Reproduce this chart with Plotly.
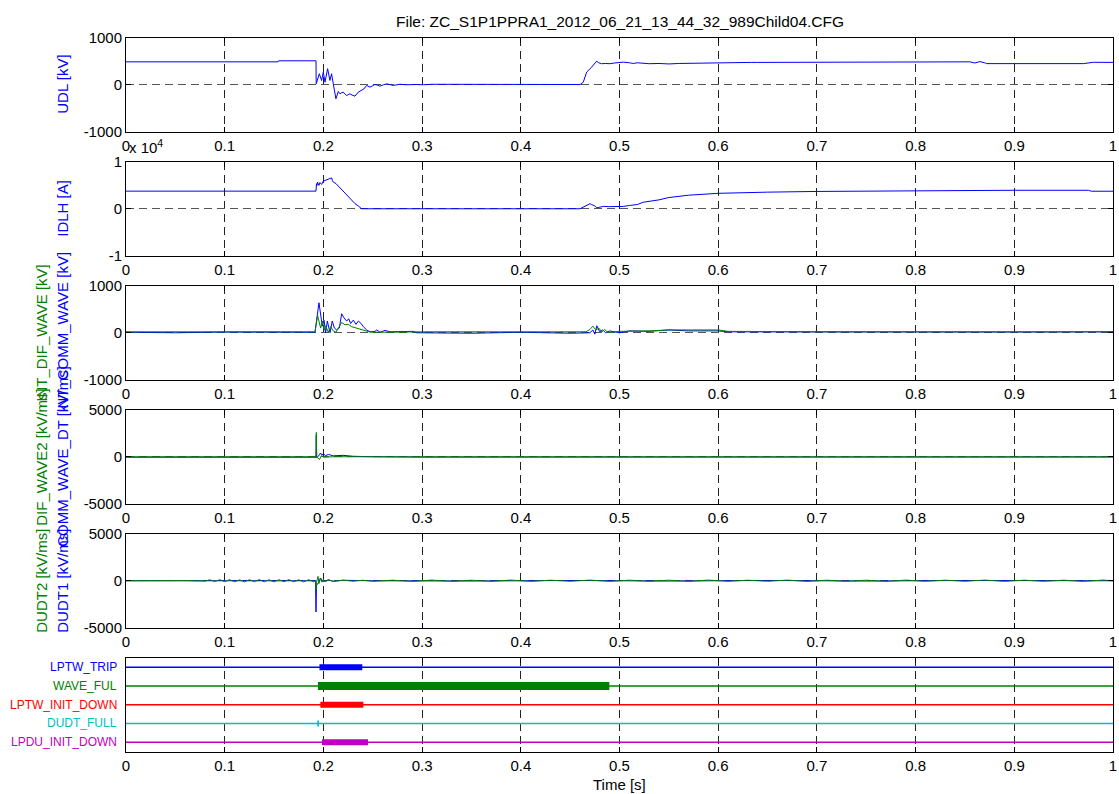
import plotly.graph_objects as go

# ---------------- data ----------------
TITLE = "File: ZC_S1P1PPRA1_2012_06_21_13_44_32_989Child04.CFG"
X_TICKS = [0, 0.1, 0.2, 0.3, 0.4, 0.5, 0.6, 0.7, 0.8, 0.9, 1]

UDL = [(0, 490), (0.154, 490), (0.1545, 512), (0.1925, 512), (0.1927, 20), (0.1959, 235), (0.1982, 90),
       (0.1999, 270), (0.2016, 55), (0.2043, 343), (0.2066, 92), (0.2083, 235), (0.2100, 20), (0.2127, -300),
       (0.2151, -143), (0.2168, -193), (0.2185, -170), (0.2201, -158), (0.2218, -200), (0.2235, -230),
       (0.2252, -210), (0.2269, -193), (0.2290, -220), (0.2320, -244), (0.2353, -158), (0.2387, -122),
       (0.2410, -90), (0.2438, -15), (0.2472, -51), (0.2500, -20), (0.2523, 6), (0.2550, -10), (0.2573, -30),
       (0.2610, 0), (0.2641, 20), (0.2680, 0), (0.2709, -15), (0.2776, 10), (0.2840, 0), (0.2945, 5),
       (0.3013, 0), (0.3100, 10), (0.3500, 5), (0.4000, 0), (0.4600, 5), (0.4633, 55), (0.4667, 270),
       (0.4718, 377), (0.4769, 505), (0.4790, 470), (0.4819, 450), (0.4860, 455), (0.4904, 450), (0.4950, 465),
       (0.5039, 484), (0.5100, 470), (0.5140, 455), (0.5180, 470), (0.5242, 460), (0.5300, 450), (0.5400, 455),
       (0.5500, 445), (0.5600, 455), (0.5700, 460), (0.5800, 450), (0.5900, 455), (0.6000, 460), (0.6100, 470),
       (0.6200, 475), (0.6340, 478), (0.6400, 478), (0.8500, 478), (0.8550, 490), (0.8600, 465), (0.8650, 495),
       (0.8700, 470), (0.8720, 452), (0.9700, 452), (0.9750, 470), (0.9800, 480), (1.0, 478)]

IDLH = [(0, 3770), (0.1925, 3770), (0.1930, 5350), (0.1935, 5000), (0.1940, 5700), (0.1955, 5000),
        (0.1965, 5600), (0.1982, 5200), (0.1999, 5900), (0.2030, 6100), (0.2066, 6400), (0.2083, 6600),
        (0.2092, 6000), (0.2100, 5700), (0.2127, 5400), (0.2150, 4900), (0.2168, 4300), (0.2201, 3600),
        (0.2269, 2100), (0.2320, 1100), (0.2353, 600), (0.2387, 0), (0.4600, 0), (0.4650, 500), (0.4700, 1070),
        (0.4718, 900), (0.4750, 600), (0.4769, 200), (0.4800, 300), (0.4836, 500), (0.4900, 450), (0.5039, 500),
        (0.5100, 700), (0.5180, 900), (0.5242, 1400), (0.5400, 1900), (0.5500, 2400), (0.5700, 2900),
        (0.6000, 3300), (0.6200, 3450), (0.6500, 3550), (0.7000, 3700), (0.7500, 3800), (0.8000, 3900),
        (0.9000, 3950), (0.9750, 3950), (0.9780, 3750), (1.0, 3750)]

COMM_WAVE = [(0, 10), (0.05, 0), (0.1, 15), (0.15, 5), (0.1915, 10), (0.1955, 642), (0.1972, 428), (0.1989, 142),
             (0.2006, 270), (0.2023, 0), (0.2040, 250), (0.2067, 0), (0.2090, 250), (0.2111, 100), (0.2134, 60),
             (0.2161, 100), (0.2185, 407), (0.2208, 321), (0.2236, 250), (0.2256, 300), (0.2276, 200),
             (0.2303, 270), (0.2330, 180), (0.2354, 250), (0.2381, 200), (0.2404, 130), (0.2438, 60), (0.2472, 20),
             (0.2523, 30), (0.2540, 60), (0.2573, 10), (0.2624, 50), (0.2675, 20), (0.2776, 20), (0.2911, 30),
             (0.2945, 0), (0.35, -10), (0.4, 10), (0.45, -10), (0.4700, 0), (0.4730, 60), (0.4750, -30),
             (0.4770, 150), (0.4800, 20), (0.4830, 60), (0.4860, 0), (0.4900, 40), (0.5000, 0), (0.5100, 40),
             (0.5300, 30), (0.5500, 60), (0.5700, 40), (0.6000, 40), (0.6100, 20), (0.7000, 15), (0.8, 20),
             (0.9, 15), (1.0, 20)]

DIF_WAVE = [(0, 20), (0.1, 20), (0.1915, 20), (0.1941, 370), (0.1958, 250), (0.1972, 100), (0.1989, 250),
            (0.2006, 50), (0.2023, 150), (0.2050, 10), (0.2073, 130), (0.2100, 40), (0.2127, 10), (0.2161, 130),
            (0.2185, 220), (0.2219, 170), (0.2252, 180), (0.2286, 130), (0.2336, 100), (0.2404, 60),
            (0.2472, 15), (0.2573, 10), (0.3, 20), (0.4, 20), (0.4660, 20), (0.4700, 70), (0.4730, 140),
            (0.4760, 60), (0.4790, 100), (0.4820, 20), (0.4850, 70), (0.4880, 10), (0.5, 30), (0.5300, 40),
            (0.55, 60), (0.6, 60), (0.61, 30), (0.7, 20), (1.0, 20)]

COMM_WAVE_DT = [(0, -50), (0.1, -50), (0.1925, -50), (0.1928, 2300), (0.1932, -100), (0.1960, 200),
                (0.1970, 400), (0.1985, 150), (0.2000, 350), (0.2020, 100), (0.2050, 250), (0.2100, 100),
                (0.2200, 150), (0.2300, 50), (0.2500, 0), (0.3, -40), (0.4, -30), (0.5, -40), (0.6, -30),
                (0.7, -40), (0.8, -30), (0.9, -40), (1, -30)]

DIF_WAVE2 = [(0, 0), (0.1925, 0), (0.1928, 2600), (0.1932, 0), (0.1960, -300), (0.1980, 100), (0.2000, -50),
             (0.2100, 0), (1, 0)]

DUDT1 = [(0, 0), (0.05, 20), (0.1, -20), (0.15, 20), (0.1920, 0), (0.1925, -3340), (0.1930, -500),
         (0.1950, -200), (0.1970, 300), (0.2000, -100), (0.2050, 100), (0.2100, -50), (0.2200, 50),
         (0.2500, 0), (0.35, -30), (0.45, 30), (0.55, -30), (0.65, 30), (0.75, -30), (0.85, 30), (1, 0)]

DUDT2 = [(0, 0), (0.02, 30), (0.04, -20), (0.06, 20), (0.08, -40), (0.085, 100), (0.09, -90), (0.095, 110),
         (0.10, -100), (0.105, 120), (0.11, -110), (0.115, 100), (0.12, -120), (0.125, 110), (0.13, -100),
         (0.135, 120), (0.14, -110), (0.145, 100), (0.15, -120), (0.155, 110), (0.16, -100), (0.165, 120),
         (0.17, -110), (0.175, 100), (0.18, -120), (0.185, 110), (0.19, -100), (0.1922, 0), (0.1925, -1000),
         (0.1930, -200), (0.1945, 470), (0.1955, -300), (0.1970, 250), (0.1985, -150), (0.2000, 150),
         (0.2020, -100), (0.2050, 80), (0.21, -60), (0.22, 60), (0.23, -50), (0.24, 50), (0.25, -60),
         (0.27, 60), (0.29, -70), (0.31, 70), (0.33, -60), (0.35, 60), (0.37, -60), (0.39, 70), (0.41, -70),
         (0.43, 60), (0.45, -60), (0.47, 70), (0.49, -70), (0.51, 60), (0.53, -60), (0.55, 60), (0.57, -70),
         (0.59, 70), (0.61, -60), (0.63, 60), (0.65, -60), (0.67, 70), (0.69, -70), (0.71, 60), (0.73, -60),
         (0.75, 60), (0.77, -70), (0.79, 70), (0.81, -60), (0.83, 60), (0.85, -60), (0.87, 70), (0.89, -70),
         (0.91, 60), (0.93, -60), (0.95, 60), (0.97, -70), (0.99, 70), (1.0, 0)]

DIGITAL_NAMES = ["LPTW_TRIP", "WAVE_FUL", "LPTW_INIT_DOWN", "DUDT_FULL", "LPDU_INIT_DOWN"]
DIGITAL_LEVELS = [5, 4, 3, 2, 1]
DIGITAL_ON = [(0.1960, 0.2394), (0.1945, 0.4897), (0.1969, 0.2405), (0.1938, 0.1955), (0.1986, 0.2452)]

# ---------------- styling ----------------
BLUE = "#0000FF"
GREEN = "#008000"
DIG_COLORS = ["#0000FF", "#008000", "#FF0000", "#00BFBF", "#BF00BF"]
DIG_WIDTH = [6, 8, 6, 6, 6]
FONT = "Liberation Sans, Arial, Helvetica, sans-serif"
TICK_SIZE = 15

W, H = 1119, 794
ML, MR, MT, MB = 126, 6, 38, 42
PH = H - MT - MB
TOPS = [38, 162, 286, 410, 534, 658]   # pixel tops of the panels
PANEL_H = 93.5


def px_x(px):
    return (px - ML) / (W - ML - MR)


def px_y(py):
    return (H - MB - py) / PH


def dom(top):
    return [px_y(top + PANEL_H), px_y(top)]


def split(pairs):
    return [p[0] for p in pairs], [p[1] for p in pairs]


fig = go.Figure()


def add_line(pairs, color, idx, width=1):
    t, v = split(pairs)
    sfx = "" if idx == 1 else str(idx)
    fig.add_trace(go.Scatter(x=t, y=v, mode="lines", line=dict(color=color, width=width),
                             xaxis="x" + sfx, yaxis="y" + sfx, showlegend=False, hoverinfo="skip"))


add_line(UDL, BLUE, 1)
add_line(IDLH, BLUE, 2)
add_line(COMM_WAVE, BLUE, 3)
add_line(DIF_WAVE, GREEN, 3)
add_line(COMM_WAVE_DT, BLUE, 4)
add_line(DIF_WAVE2, GREEN, 4)
add_line(DUDT1, BLUE, 5)
add_line(DUDT2, GREEN, 5)

for name, lvl, (a, b), col, w in zip(DIGITAL_NAMES, DIGITAL_LEVELS, DIGITAL_ON, DIG_COLORS, DIG_WIDTH):
    fig.add_trace(go.Scatter(x=[0, 1], y=[lvl, lvl], mode="lines", line=dict(color=col, width=1.5),
                             xaxis="x6", yaxis="y6", showlegend=False, hoverinfo="skip"))
    fig.add_trace(go.Scatter(x=[a, b], y=[lvl, lvl], mode="lines", line=dict(color=col, width=w),
                             xaxis="x6", yaxis="y6", showlegend=False, hoverinfo="skip"))

Y_SPECS = [
    dict(range=[-1000, 1000], tickvals=[-1000, 0, 1000], ticktext=["-1000", "0", "1000"]),
    dict(range=[-10000, 10000], tickvals=[-10000, 0, 10000], ticktext=["-1", "0", "1"]),
    dict(range=[-1000, 1000], tickvals=[-1000, 0, 1000], ticktext=["-1000", "0", "1000"]),
    dict(range=[-5000, 5000], tickvals=[-5000, 0, 5000], ticktext=["-5000", "0", "5000"]),
    dict(range=[-5000, 5000], tickvals=[-5000, 0, 5000], ticktext=["-5000", "0", "5000"]),
    None,
]

layout = dict(width=W, height=H, margin=dict(l=ML, r=MR, t=MT, b=MB, autoexpand=False),
              paper_bgcolor="white", plot_bgcolor="white",
              font=dict(family=FONT, size=TICK_SIZE, color="black"), showlegend=False)

for i in range(6):
    sfx = "" if i == 0 else str(i + 1)
    layout["xaxis" + sfx] = dict(domain=[0, 1], anchor="y" + sfx, range=[0, 1], tickmode="array",
                                 tickvals=X_TICKS, ticktext=[f"{v:g}" for v in X_TICKS],
                                 showline=True, linecolor="black", linewidth=1, mirror="ticks",
                                 ticks="inside", ticklen=5, tickcolor="black",
                                 showgrid=True, gridcolor="#222222", gridwidth=1, griddash="8px,5px",
                                 zeroline=False, automargin=False, ticklabeloverflow="allow",
                                 tickfont=dict(size=TICK_SIZE, family=FONT))
    ys = Y_SPECS[i]
    yax = dict(domain=dom(TOPS[i]), anchor="x" + sfx,
               showline=True, linecolor="black", linewidth=1, mirror="ticks",
               zeroline=False, automargin=False, tickfont=dict(size=TICK_SIZE, family=FONT))
    if ys is not None:
        yax.update(range=ys["range"], tickmode="array", tickvals=ys["tickvals"], ticktext=ys["ticktext"],
                   ticks="inside", ticklen=5, tickcolor="black",
                   showgrid=True, gridcolor="#555555", gridwidth=1, griddash="8px,5px")
    else:
        yax.update(range=[0.5, 5.5], showticklabels=False, ticks="", showgrid=False)
    layout["yaxis" + sfx] = yax

fig.update_layout(**layout)

ann = []
ann.append(dict(text=TITLE, x=0.5, y=px_y(21), xref="paper", yref="paper", showarrow=False,
                xanchor="center", yanchor="middle", font=dict(size=15.5, family=FONT, color="black")))
ann.append(dict(text="Time [s]", x=0.5, y=px_y(784), xref="paper", yref="paper", showarrow=False,
                xanchor="center", yanchor="middle", font=dict(size=15, family=FONT, color="black")))
ann.append(dict(text="x 10<sup>4</sup>", x=px_x(127), y=px_y(146), xref="paper", yref="paper",
                showarrow=False, xanchor="left", yanchor="middle",
                font=dict(size=15, family=FONT, color="black")))

Y_LABELS = [
    [("UDL [kV]", BLUE, 63)],
    [("IDLH [A]", BLUE, 63)],
    [("INT_DIF_WAVE [kV]", GREEN, 42), ("INT_COMM_WAVE [kV]", BLUE, 63)],
    [("DIF_WAVE2 [kV/ms]", GREEN, 42), ("COMM_WAVE_DT [kV/ms]", BLUE, 63)],
    [("DUDT2 [kV/ms]", GREEN, 42), ("DUDT1 [kV/ms]", BLUE, 63)],
]
for i, labs in enumerate(Y_LABELS):
    cy = TOPS[i] + PANEL_H / 2
    for txt, col, xpx in labs:
        ann.append(dict(text=txt, x=px_x(xpx), y=px_y(cy), xref="paper", yref="paper", showarrow=False,
                        textangle=-90, xanchor="center", yanchor="middle",
                        font=dict(size=15, family=FONT, color=col)))

for name, lvl, col in zip(DIGITAL_NAMES, DIGITAL_LEVELS, DIG_COLORS):
    ann.append(dict(text=name, x=px_x(119), y=lvl, xref="paper", yref="y6", showarrow=False,
                    xanchor="right", yanchor="middle", font=dict(size=12, family=FONT, color=col)))

fig.update_layout(annotations=ann)

# remove the default page margin so the figure sits at the top-left corner of the window
PAGE_CSS_JS = ("document.body.style.margin='0';document.body.style.padding='0';"
               "document.documentElement.style.overflow='hidden';")
fig.write_html("out.html", post_script=PAGE_CSS_JS, config={"displayModeBar": False})
